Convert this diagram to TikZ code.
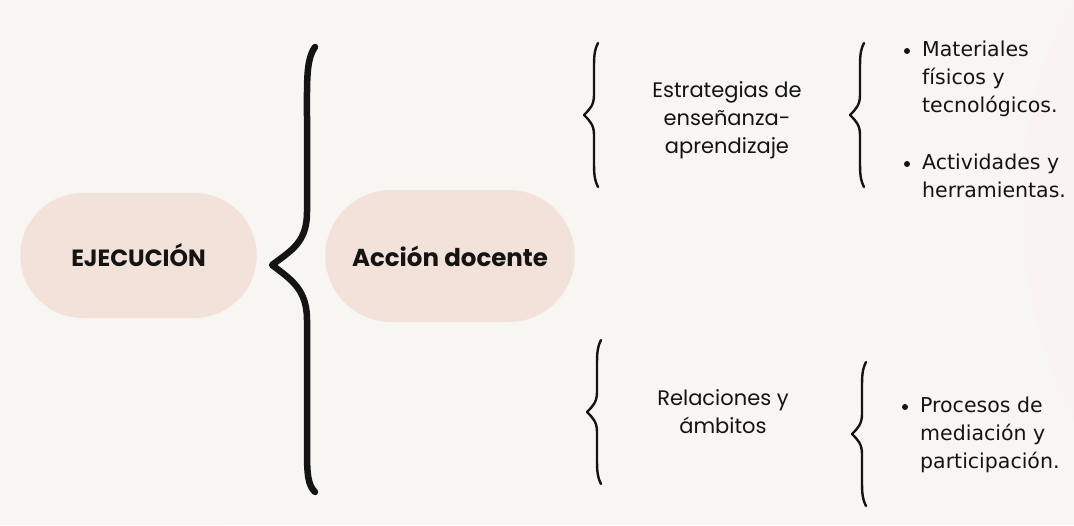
\documentclass[tikz,border=0pt]{standalone}
\usepackage{fontspec}
\setmainfont{Poppins}
\newfontfamily\listfont{DejaVu Sans}
\usetikzlibrary{shapes.misc}
\definecolor{paper}{HTML}{F8F6F2}
\definecolor{pill}{HTML}{F2E2DA}
\definecolor{ink}{HTML}{141414}
\tikzset{
  pillbox/.style={rounded rectangle,fill=pill,text=ink},
  curly/.style={draw=ink,line width=2.4pt,line cap=round,line join=round},
  listtext/.style={anchor=north west,align=left,inner sep=0pt,text=ink,
    font=\listfont\fontsize{20.5}{28}\selectfont},
  midtext/.style={anchor=north,align=center,inner sep=0pt,text=ink,
    font=\fontsize{21}{28}\selectfont}
}
\begin{document}
\begin{tikzpicture}[x=1pt,y=-1pt]
\fill[paper] (0,0) rectangle (1074,525);
\useasboundingbox (0,0) rectangle (1074,525);
% faint paper marks
\fill[black!3,opacity=.6] (0,525) .. controls (40,430) and (150,420) .. (230,525) -- cycle;
\fill[pill!40,opacity=.5] (1074,0) .. controls (1000,120) and (1010,300) .. (1074,420) -- cycle;

\node[pillbox,minimum width=243pt,minimum height=125pt,font=\bfseries\fontsize{23.5}{25}\selectfont] (ejec) at (138.5,255.5) {EJECUCIÓN};
\node[pillbox,minimum width=256pt,minimum height=132pt,font=\bfseries\fontsize{24.5}{26}\selectfont] (accion) at (450,256) {Acción docente};

% big brace
\draw[curly,line width=6.5pt] (315,47) .. controls (306,60) and (307,80) .. (307,120) -- (307,212)
  .. controls (307,242) and (292,250) .. (272,265) .. controls (292,280) and (307,290) .. (307,320)
  -- (307,450) .. controls (307,475) and (308,485) .. (315,492);

% small braces
\foreach \bx/\by in {594/43,860/43,597/340,862/362} {
\begin{scope}[xshift=\bx pt,yshift=-\by pt]
\draw[curly] (4,0) .. controls (0,8) and (0,14) .. (0,28) -- (0,52)
  .. controls (0,62) and (-4,66) .. (-10,72) .. controls (-4,78) and (0,82) .. (0,92)
  -- (0,116) .. controls (0,130) and (0,136) .. (4,144);
\end{scope}
}

\node[midtext] (estr) at (727,81.5) {Estrategias de\\enseñanza-\\aprendizaje};
\node[midtext] (rel) at (723,389.5) {Relaciones y\\ámbitos};

\fill[ink] (907,51) circle (3pt) (907,164) circle (3pt) (905,407) circle (3pt);
\node[listtext] (mat) at (922,41) {Materiales\\físicos y\\tecnológicos.};
\node[listtext] (act) at (922,154) {Actividades y\\herramientas.};
\node[listtext] (proc) at (920,397) {Procesos de\\mediación y\\participación.};
\end{tikzpicture}
\end{document}
